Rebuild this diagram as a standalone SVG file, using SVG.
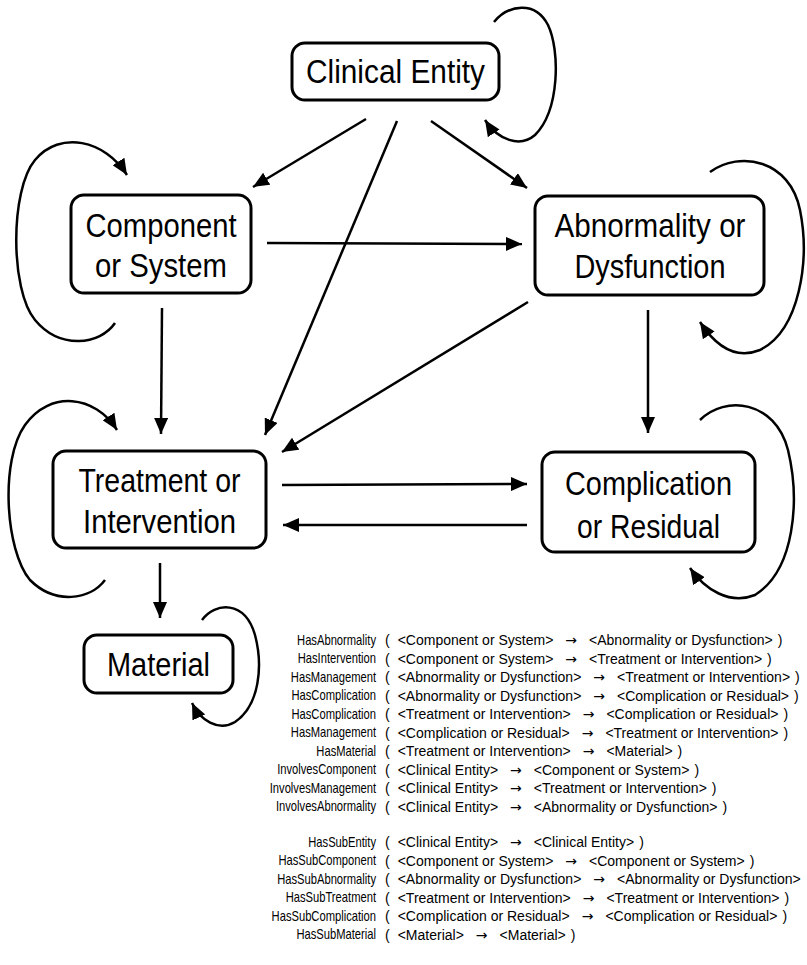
<svg xmlns="http://www.w3.org/2000/svg" width="807" height="965" viewBox="0 0 807 965">
  <style>
    .box { fill: #fff; stroke: #000; stroke-width: 3; }
    .lbl { font-family: "Liberation Sans", Arial, sans-serif; font-size: 34px; fill: #000; text-anchor: middle; }
    .edge { fill: none; stroke: #000; stroke-width: 2.5; marker-end: url(#head); }
    .name { font-family: "Liberation Sans", Arial, sans-serif; font-size: 14px; fill: #000; text-anchor: end; }
    .rel { font-family: "Liberation Sans", Arial, sans-serif; font-size: 14px; fill: #000; }
    .to { font-family: "DejaVu Sans", sans-serif; font-size: 14px; }
  </style>
  <defs>
    <marker id="head" markerUnits="userSpaceOnUse" markerWidth="18" markerHeight="14" refX="16" refY="7" orient="auto">
      <path d="M0,0 L16,7 L0,14 z" fill="#000"/>
    </marker>
  </defs>
  <rect width="807" height="965" fill="#fff"/>

  <!-- connectors -->
  <g id="connectors">
    <line class="edge" x1="366" y1="119" x2="253" y2="187"/>
    <line class="edge" x1="431" y1="121" x2="527" y2="188"/>
    <line class="edge" x1="397" y1="121" x2="265" y2="435"/>
    <line class="edge" x1="267" y1="243" x2="522" y2="244"/>
    <line class="edge" x1="162" y1="308" x2="161" y2="434"/>
    <line class="edge" x1="528" y1="302" x2="282" y2="452"/>
    <line class="edge" x1="648" y1="310" x2="648" y2="433"/>
    <line class="edge" x1="282" y1="485" x2="527" y2="484"/>
    <line class="edge" x1="527" y1="525" x2="283" y2="525"/>
    <line class="edge" x1="160" y1="563" x2="160" y2="618"/>
    <!-- self relations -->
    <path class="edge" d="M494,22 C508,5 535,0 548,25 C560,50 560,110 535,135 C520,148 498,140 485,120"/>
    <path class="edge" d="M115,323 C100,345 60,350 35,320 C10,290 10,190 35,160 C60,130 105,140 127,175"/>
    <path class="edge" d="M105,580 C90,600 55,605 30,580 C5,550 0,460 25,425 C50,390 95,395 117,430"/>
    <path class="edge" d="M710,172 C740,150 790,160 800,210 C810,260 800,330 760,350 C735,360 715,345 700,322"/>
    <path class="edge" d="M700,420 C725,395 775,400 788,450 C800,500 795,570 755,595 C730,605 705,590 690,568"/>
    <path class="edge" d="M202,620 C215,602 245,600 255,635 C263,665 260,705 235,722 C218,732 200,720 192,703"/>
  </g>

  <!-- nodes -->
  <g id="clinical-entity">
    <rect class="box" x="292" y="43" width="207" height="57" rx="13"/>
    <text class="lbl" x="395.5" y="83" textLength="179" lengthAdjust="spacingAndGlyphs">Clinical Entity</text>
  </g>
  <g id="component-system">
    <rect class="box" x="71" y="195" width="180" height="98" rx="13"/>
    <text class="lbl" x="161" y="237" textLength="151" lengthAdjust="spacingAndGlyphs">Component</text>
    <text class="lbl" x="161" y="277" textLength="132" lengthAdjust="spacingAndGlyphs">or System</text>
  </g>
  <g id="abnormality-dysfunction">
    <rect class="box" x="535" y="196" width="229" height="99" rx="13"/>
    <text class="lbl" x="650" y="237" textLength="191" lengthAdjust="spacingAndGlyphs">Abnormality or</text>
    <text class="lbl" x="650" y="278" textLength="151" lengthAdjust="spacingAndGlyphs">Dysfunction</text>
  </g>
  <g id="treatment-intervention">
    <rect class="box" x="53" y="451" width="213" height="97" rx="13"/>
    <text class="lbl" x="159.5" y="492" textLength="162" lengthAdjust="spacingAndGlyphs">Treatment or</text>
    <text class="lbl" x="159.5" y="533" textLength="153" lengthAdjust="spacingAndGlyphs">Intervention</text>
  </g>
  <g id="complication-residual">
    <rect class="box" x="542" y="452" width="213" height="100" rx="13"/>
    <text class="lbl" x="648.5" y="495" textLength="167" lengthAdjust="spacingAndGlyphs">Complication</text>
    <text class="lbl" x="648.5" y="538" textLength="143" lengthAdjust="spacingAndGlyphs">or Residual</text>
  </g>
  <g id="material">
    <rect class="box" x="84" y="635" width="149" height="58" rx="13"/>
    <text class="lbl" x="158.5" y="676" textLength="103" lengthAdjust="spacingAndGlyphs">Material</text>
  </g>

  <!-- relation legend: names -->
  <g id="legend-names" transform="translate(376 0) scale(0.8 1)">
    <text class="name" x="0" y="645">HasAbnormality</text>
    <text class="name" x="0" y="663.5">HasIntervention</text>
    <text class="name" x="0" y="682">HasManagement</text>
    <text class="name" x="0" y="700.5">HasComplication</text>
    <text class="name" x="0" y="719">HasComplication</text>
    <text class="name" x="0" y="737.5">HasManagement</text>
    <text class="name" x="0" y="756">HasMaterial</text>
    <text class="name" x="0" y="774.5">InvolvesComponent</text>
    <text class="name" x="0" y="793">InvolvesManagement</text>
    <text class="name" x="0" y="811.5">InvolvesAbnormality</text>
    <text class="name" x="0" y="847">HasSubEntity</text>
    <text class="name" x="0" y="865.5">HasSubComponent</text>
    <text class="name" x="0" y="884">HasSubAbnormality</text>
    <text class="name" x="0" y="902.5">HasSubTreatment</text>
    <text class="name" x="0" y="921">HasSubComplication</text>
    <text class="name" x="0" y="939.5">HasSubMaterial</text>
  </g>
  <!-- relation legend: signatures -->
  <g id="legend-signatures" transform="translate(385 0)">
    <text class="rel" x="0" y="645">(<tspan dx="8">&lt;Component or System&gt;</tspan><tspan class="to" dx="12">→</tspan><tspan dx="12">&lt;Abnormality or Dysfunction&gt;</tspan><tspan dx="5">)</tspan></text>
    <text class="rel" x="0" y="663.5">(<tspan dx="8">&lt;Component or System&gt;</tspan><tspan class="to" dx="12">→</tspan><tspan dx="12">&lt;Treatment or Intervention&gt;</tspan><tspan dx="5">)</tspan></text>
    <text class="rel" x="0" y="682">(<tspan dx="8">&lt;Abnormality or Dysfunction&gt;</tspan><tspan class="to" dx="12">→</tspan><tspan dx="12">&lt;Treatment or Intervention&gt;</tspan><tspan dx="5">)</tspan></text>
    <text class="rel" x="0" y="700.5">(<tspan dx="8">&lt;Abnormality or Dysfunction&gt;</tspan><tspan class="to" dx="12">→</tspan><tspan dx="12">&lt;Complication or Residual&gt;</tspan><tspan dx="5">)</tspan></text>
    <text class="rel" x="0" y="719">(<tspan dx="8">&lt;Treatment or Intervention&gt;</tspan><tspan class="to" dx="12">→</tspan><tspan dx="12">&lt;Complication or Residual&gt;</tspan><tspan dx="5">)</tspan></text>
    <text class="rel" x="0" y="737.5">(<tspan dx="8">&lt;Complication or Residual&gt;</tspan><tspan class="to" dx="12">→</tspan><tspan dx="12">&lt;Treatment or Intervention&gt;</tspan><tspan dx="5">)</tspan></text>
    <text class="rel" x="0" y="756">(<tspan dx="8">&lt;Treatment or Intervention&gt;</tspan><tspan class="to" dx="12">→</tspan><tspan dx="12">&lt;Material&gt;</tspan><tspan dx="5">)</tspan></text>
    <text class="rel" x="0" y="774.5">(<tspan dx="8">&lt;Clinical Entity&gt;</tspan><tspan class="to" dx="12">→</tspan><tspan dx="12">&lt;Component or System&gt;</tspan><tspan dx="5">)</tspan></text>
    <text class="rel" x="0" y="793">(<tspan dx="8">&lt;Clinical Entity&gt;</tspan><tspan class="to" dx="12">→</tspan><tspan dx="12">&lt;Treatment or Intervention&gt;</tspan><tspan dx="5">)</tspan></text>
    <text class="rel" x="0" y="811.5">(<tspan dx="8">&lt;Clinical Entity&gt;</tspan><tspan class="to" dx="12">→</tspan><tspan dx="12">&lt;Abnormality or Dysfunction&gt;</tspan><tspan dx="5">)</tspan></text>
    <text class="rel" x="0" y="847">(<tspan dx="8">&lt;Clinical Entity&gt;</tspan><tspan class="to" dx="12">→</tspan><tspan dx="12">&lt;Clinical Entity&gt;</tspan><tspan dx="5">)</tspan></text>
    <text class="rel" x="0" y="865.5">(<tspan dx="8">&lt;Component or System&gt;</tspan><tspan class="to" dx="12">→</tspan><tspan dx="12">&lt;Component or System&gt;</tspan><tspan dx="5">)</tspan></text>
    <text class="rel" x="0" y="884">(<tspan dx="8">&lt;Abnormality or Dysfunction&gt;</tspan><tspan class="to" dx="12">→</tspan><tspan dx="12">&lt;Abnormality or Dysfunction&gt;</tspan></text>
    <text class="rel" x="0" y="902.5">(<tspan dx="8">&lt;Treatment or Intervention&gt;</tspan><tspan class="to" dx="12">→</tspan><tspan dx="12">&lt;Treatment or Intervention&gt;</tspan><tspan dx="5">)</tspan></text>
    <text class="rel" x="0" y="921">(<tspan dx="8">&lt;Complication or Residual&gt;</tspan><tspan class="to" dx="12">→</tspan><tspan dx="12">&lt;Complication or Residual&gt;</tspan><tspan dx="5">)</tspan></text>
    <text class="rel" x="0" y="939.5">(<tspan dx="8">&lt;Material&gt;</tspan><tspan class="to" dx="12">→</tspan><tspan dx="12">&lt;Material&gt;</tspan><tspan dx="5">)</tspan></text>
  </g>
</svg>
